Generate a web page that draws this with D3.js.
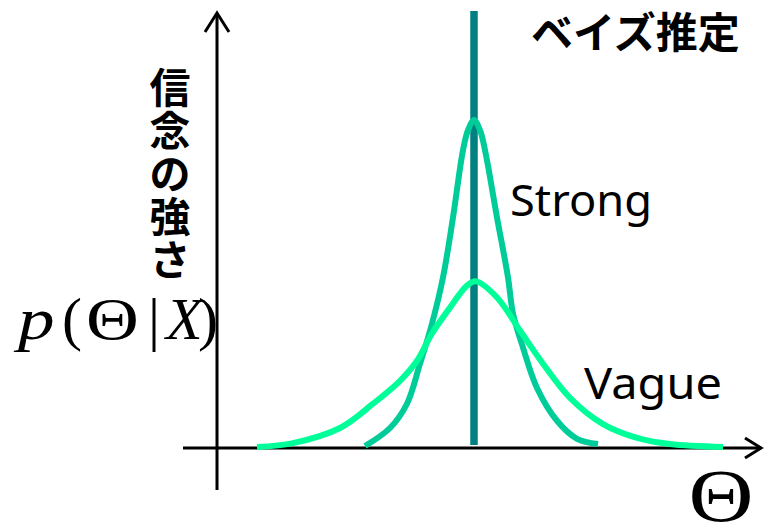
<!DOCTYPE html>
<html>
<head>
<meta charset="utf-8">
<script src="https://cdn.jsdelivr.net/npm/d3@7"></script>
<style>
  html, body { margin: 0; padding: 0; background: #fff; }
  svg { display: block; }
</style>
</head>
<body>
<svg id="chart" width="768" height="528"></svg>
<script>
// Posterior densities p(Θ|X): parameter value Θ and relative density
const strongTheta = [-5.45, -4.2, -3.35, -2.7, -2.1, -1.55, -1.05, -0.55, -0.3, 0, 0.3, 0.55, 1.15, 1.7, 1.95, 2.45, 3.15, 4.15, 5.15, 6.2];
const strongDensity = [0.006, 0.061, 0.135, 0.257, 0.379, 0.520, 0.703, 0.908, 0.969, 1.0, 0.969, 0.908, 0.703, 0.520, 0.410, 0.306, 0.183, 0.083, 0.028, 0.012];

const vagueTheta = [-10.85, -9.05, -6.7, -5.05, -3.7, -2.85, -2.1, -1.2, -0.35, 0.1, 1.15, 2.3, 3.45, 4.8, 6.45, 8.15, 9.8, 12.45];
const vagueDensity = [0.003, 0.015, 0.061, 0.135, 0.205, 0.266, 0.349, 0.428, 0.495, 0.508, 0.459, 0.358, 0.257, 0.153, 0.073, 0.031, 0.012, 0.003];

// Point estimate drawn as a vertical line
const pointEstimate = 0;

const labels = {
  title: "ベイズ推定",
  yLabel: ["信", "念", "の", "強", "さ"],
  strong: "Strong",
  vague: "Vague"
};

const svg = d3.select("#chart");

const x = d3.scaleLinear().domain([-12.85, 14.35]).range([217, 761]);
const y = d3.scaleLinear().domain([0, 1]).range([448, 120]);

const toPoints = (ts, ds) => ts.map((t, i) => [t, ds[i]]);
const line = d3.line()
  .x(d => x(d[0]))
  .y(d => y(d[1]))
  .curve(d3.curveCatmullRom.alpha(0.5));

// Axes with open arrowheads
const axisG = svg.append("g").attr("stroke", "#000").attr("stroke-width", 3).attr("fill", "none");
const x0 = x.range()[0];
const yBase = y(0);
axisG.append("line").attr("x1", x0).attr("x2", x0).attr("y1", 490).attr("y2", 13);
axisG.append("path").attr("d", `M${x0 - 12},32 L${x0},13 L${x0 + 12},32`);
axisG.append("line").attr("x1", 183).attr("x2", x.range()[1]).attr("y1", yBase).attr("y2", yBase);
axisG.append("path").attr("d", `M${x.range()[1] - 16},${yBase - 10} L${x.range()[1]},${yBase} L${x.range()[1] - 16},${yBase + 10}`);

// Point estimate
svg.append("line")
  .attr("x1", x(pointEstimate)).attr("x2", x(pointEstimate))
  .attr("y1", 11).attr("y2", yBase - 3)
  .attr("stroke", "#008080").attr("stroke-width", 7.5);

// Density curves
svg.append("path")
  .datum(toPoints(strongTheta, strongDensity))
  .attr("d", line)
  .attr("fill", "none")
  .attr("stroke", "#00cc99")
  .attr("stroke-width", 6);

svg.append("path")
  .datum(toPoints(vagueTheta, vagueDensity))
  .attr("d", line)
  .attr("fill", "none")
  .attr("stroke", "#00ff99")
  .attr("stroke-width", 6);

// Title
svg.append("text")
  .attr("x", 531).attr("y", 48)
  .attr("font-family", "'Noto Sans CJK JP'")
  .attr("font-weight", "bold")
  .attr("font-size", 42)
  .attr("fill", "#000")
  .text(labels.title);

// Vertical axis label
svg.append("g").selectAll("text")
  .data(labels.yLabel)
  .join("text")
  .attr("x", 170)
  .attr("y", (d, i) => 103 + i * 43)
  .attr("text-anchor", "middle")
  .attr("font-family", "'Noto Sans CJK JP'")
  .attr("font-weight", "bold")
  .attr("font-size", 41)
  .attr("fill", "#000")
  .text(d => d);

// p(Θ | X) in serif math style; each glyph placed and widened on its own
const mathParts = [
  { s: "p", x: 18, sx: 1.22, it: true },
  { s: "(", x: 62, sx: 1.0, it: false },
  { s: "Θ", x: 86, sx: 1.22, it: false },
  { s: "|", x: 148, sx: 1.0, it: false },
  { s: "X", x: 166, sx: 1.0, it: true },
  { s: ")", x: 198, sx: 1.0, it: false }
];
svg.append("g")
  .attr("font-family", "'Liberation Serif'")
  .attr("font-size", 60)
  .attr("fill", "#000")
  .selectAll("text").data(mathParts).join("text")
  .attr("transform", d => `translate(${d.x},339) scale(${d.sx},1)`)
  .attr("font-style", d => d.it ? "italic" : "normal")
  .text(d => d.s);

// Θ label for the horizontal axis
svg.append("text")
  .attr("transform", "translate(721,521) scale(1.2,1)")
  .attr("text-anchor", "middle")
  .attr("font-family", "'Liberation Serif'")
  .attr("font-size", 75)
  .attr("fill", "#000")
  .text("Θ");

// Curve labels
svg.append("text")
  .attr("x", 510).attr("y", 216)
  .attr("font-family", "'Noto Sans'")
  .attr("font-size", 43)
  .attr("textLength", 142)
  .attr("lengthAdjust", "spacingAndGlyphs")
  .attr("fill", "#000")
  .text(labels.strong);

svg.append("text")
  .attr("x", 584).attr("y", 399)
  .attr("font-family", "'Noto Sans'")
  .attr("font-size", 43)
  .attr("textLength", 138)
  .attr("lengthAdjust", "spacingAndGlyphs")
  .attr("fill", "#000")
  .text(labels.vague);
</script>
</body>
</html>
